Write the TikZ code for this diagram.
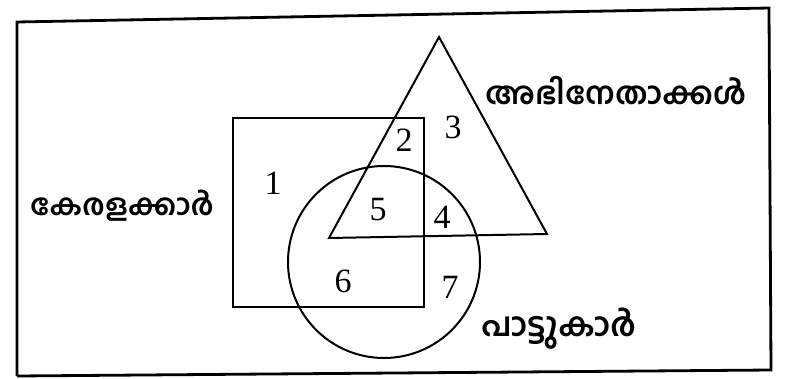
\documentclass[tikz,border=0pt]{standalone}
\usepackage{fontspec}
\setmainfont{Liberation Serif}
\newfontfamily\malfont[Script=Malayalam]{Hind Kochi}
\begin{document}
\begin{tikzpicture}[x=1pt,y=-1pt,
  shape line/.style={line width=2pt, line join=miter},
  frame line/.style={line width=2.8pt},
  num/.style={font=\fontsize{34}{34}\selectfont, inner sep=0pt},
  lab/.style={inner sep=0pt}]
\useasboundingbox (0,0) rectangle (785,378);
% frame
\coordinate (f1) at (17,22);
\coordinate (f2) at (769,8);
\coordinate (f3) at (771,370);
\coordinate (f4) at (17,376);
\draw[frame line] (f4) -- (f1) -- (f2) -- (f3) -- (f4);
% rectangle (Keralites)
\draw[shape line] (233,118) rectangle (424,307);
% triangle (actors)
\coordinate (tA) at (439,37);
\coordinate (tB) at (329,238);
\coordinate (tC) at (547,234);
\draw[shape line] (tA) -- (tB) -- (tC) -- cycle;
% circle (singers)
\draw[shape line] (384,262) circle (96);
% numbers
\node[num] (n1) at (273,183) {1};
\node[num] (n2) at (404,140) {2};
\node[num] (n3) at (453,127) {3};
\node[num] (n4) at (442,217) {4};
\node[num] (n5) at (378,210) {5};
\node[num] (n6) at (343,281) {6};
\node[num] (n7) at (450,287) {7};
% labels
\node[lab, font=\malfont\bfseries\fontsize{31}{31}\selectfont] (actors) at (616,91) {അഭിനേതാക്കൾ};
\node[lab, font=\malfont\bfseries\fontsize{29.5}{29.5}\selectfont] (kerala) at (122,206) {കേരളക്കാർ};
\node[lab, font=\malfont\bfseries\fontsize{33}{33}\selectfont] (singers) at (559,329) {പാട്ടുകാർ};
\end{tikzpicture}
\end{document}
